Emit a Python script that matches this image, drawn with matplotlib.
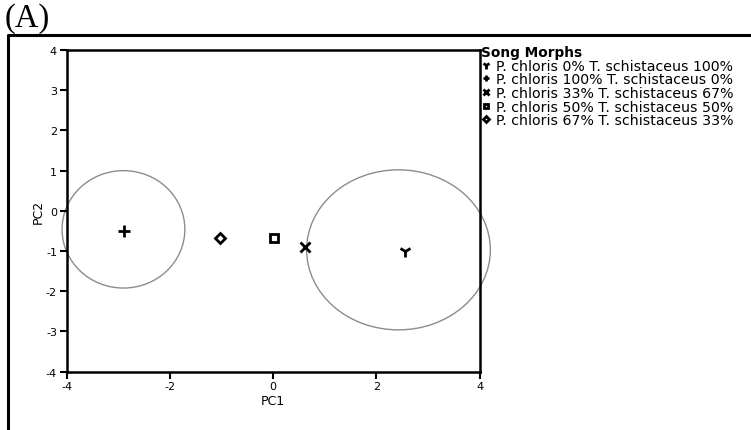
import numpy as np
import matplotlib.pyplot as plt
from matplotlib.patches import Ellipse
from matplotlib.lines import Line2D

plt.rcParams['axes.unicode_minus'] = False

# Group means on the first two principal components
morphs = ['P. chloris 0% T. schistaceus 100%',
          'P. chloris 100% T. schistaceus 0%',
          'P. chloris 33% T. schistaceus 67%',
          'P. chloris 50% T. schistaceus 50%',
          'P. chloris 67% T. schistaceus 33%']
pc1 = [2.56, -2.88, 0.61, 0.02, -1.03]
pc2 = [-1.01, -0.50, -0.89, -0.68, -0.68]
markers = ['1', '+', 'x', 's', 'D']
msizes = [9, 8, 7, 6, 5]

# Confidence ellipses for the two parental morphs (centre x, centre y, width, height)
ell_x = [-2.90, 2.43]
ell_y = [-0.46, -0.97]
ell_w = [2.38, 3.56]
ell_h = [2.92, 3.98]

W, H = 751, 431
fig = plt.figure(figsize=(W/100, H/100), dpi=100)
ax = fig.add_axes([66.7/W, (H-372.7)/H, 412.8/W, 321.7/H])

for cx, cy, w, h in zip(ell_x, ell_y, ell_w, ell_h):
    ax.add_patch(Ellipse((cx, cy), w, h, fill=False, edgecolor='#8c8c8c',
                         lw=1.0, clip_on=False))

for name, x, y, m, s in zip(morphs, pc1, pc2, markers, msizes):
    ax.plot([x], [y], linestyle='none', marker=m, markersize=s,
            markeredgewidth=2, color='black', markerfacecolor='none',
            label=name)

ax.set_xlim(-4, 4)
ax.set_ylim(-4, 4)
ax.set_xticks([-4, -2, 0, 2, 4])
ax.set_yticks(range(-4, 5))
ax.tick_params(direction='out', length=5, width=1.5, labelsize=8, pad=2)
for sp in ax.spines.values():
    sp.set_linewidth(1.8)
ax.set_xlabel('PC1', fontsize=9, labelpad=2)
ax.set_ylabel('PC2', fontsize=9, labelpad=1)

leg = ax.legend(loc='upper left', bbox_to_anchor=(1.003, 1.016), frameon=False,
                title='Song Morphs', alignment='left', fontsize=10.2,
                title_fontproperties={'weight': 'bold', 'size': 9.8},
                borderaxespad=0.0, borderpad=0.0, handlelength=0.7,
                handletextpad=0.35, labelspacing=-0.02, markerscale=0.6)

# Outer panel frame and label
fig.add_artist(Line2D([8/W, 8/W, 1.0], [0.0, 1 - 36/H, 1 - 36/H],
                      transform=fig.transFigure, color='black', lw=2.2))
fig.text(5/W, 1 - 3/H, '(A)', family='Liberation Serif', fontsize=23.5,
         va='top', ha='left')

fig.savefig('out.png', dpi=100)
